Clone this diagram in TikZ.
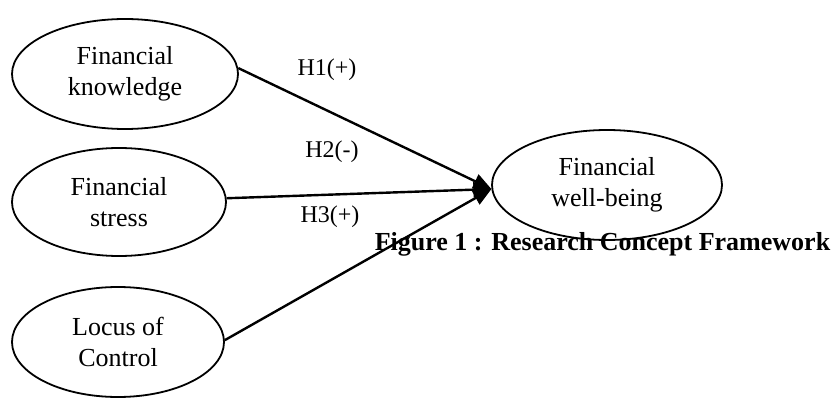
\documentclass[tikz,border=0pt]{standalone}
\usepackage{fontspec}
\setmainfont{Liberation Serif}
\usetikzlibrary{shapes.geometric,arrows.meta}
\begin{document}
\begin{tikzpicture}[x=1pt,y=-1pt,
  construct/.style={draw=black,line width=1.8pt,ellipse,inner sep=0pt,align=center,
    font=\fontsize{26}{31}\selectfont},
  link/.style={line width=2.4pt,-{Triangle[length=18pt,width=15pt]}},
  hyp/.style={font=\fontsize{24}{28}\selectfont,inner sep=0pt}]
\useasboundingbox (0,0) rectangle (837,398);
\node[construct,minimum width=226pt,minimum height=110pt] (fk) at (125,74) {Financial\\knowledge};
\node[construct,minimum width=214pt,minimum height=108pt] (fs) at (119,202) {Financial\\stress};
\node[construct,minimum width=212pt,minimum height=110pt] (lc) at (118,342) {Locus of\\Control};
\node[construct,minimum width=230pt,minimum height=110pt] (fw) at (607,185) {Financial\\well-being};
\draw[link] (fk.3) -- (fw.182);
\draw[link] (fs.2) -- (fw.182);
\draw[link] (lc.1) -- (fw.182);
\node[hyp] (h1) at (327,70) {H1(+)};
\node[hyp] (h2) at (332,152) {H2(-)};
\node[hyp] (h3) at (330,217) {H3(+)};
\node[anchor=base,inner sep=0pt,font=\fontsize{26}{30}\selectfont\bfseries] (cap) at (602.5,250) {Figure 1 : Research Concept Framework};
\end{tikzpicture}
\end{document}
